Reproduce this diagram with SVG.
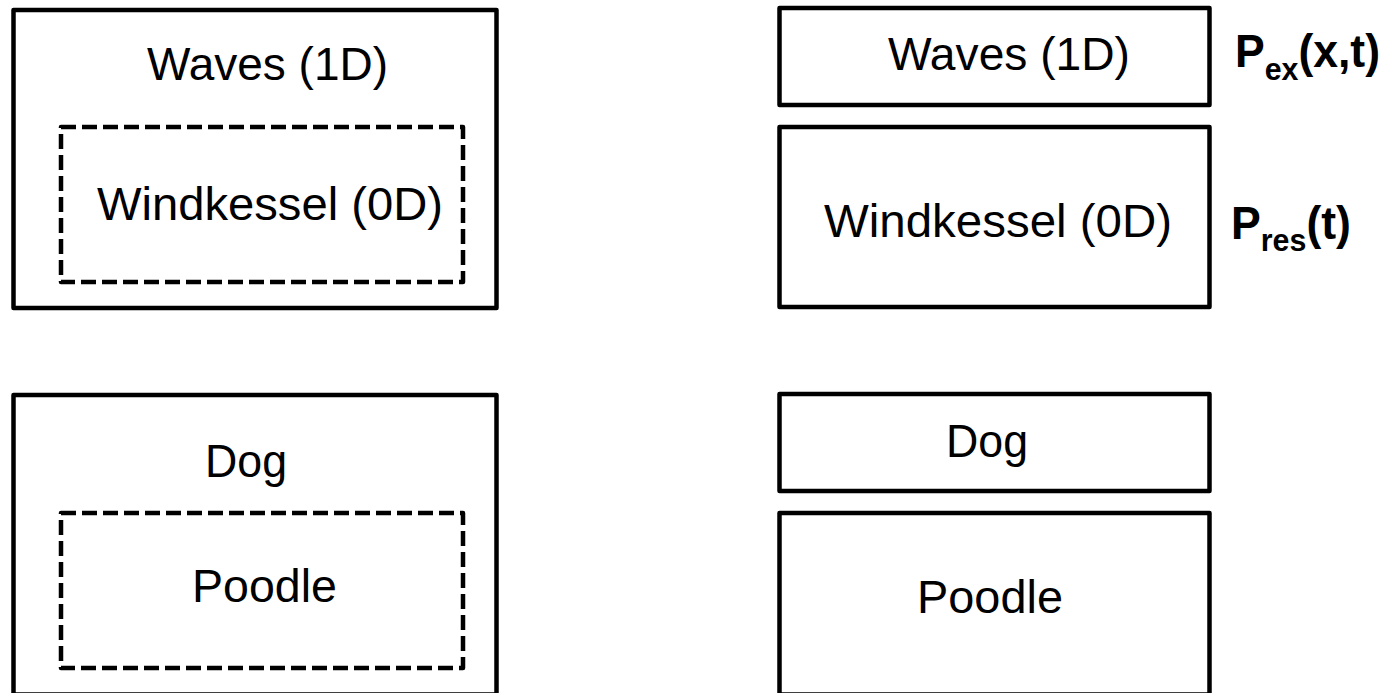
<svg xmlns="http://www.w3.org/2000/svg" width="1389" height="693" viewBox="0 0 1389 693">
<style>
.box{fill:none;stroke:#000;stroke-width:4.5;stroke-linejoin:round}
.dash{fill:none;stroke:#000;stroke-width:4.5;stroke-dasharray:15 6;stroke-linejoin:round}
.lbl{font-family:"Liberation Sans",Arial,sans-serif;font-size:47px;fill:#000;text-anchor:middle}
.eq{font-family:"Liberation Sans",Arial,sans-serif;font-weight:bold;font-size:47px;fill:#000}
.sub{font-size:32px}
</style>
<rect width="1389" height="693" fill="#fff"/>
<g id="waves-outer">
<rect class="box" x="13.5" y="10" width="483" height="298"/>
<text class="lbl" x="267.5" y="80" textLength="241" lengthAdjust="spacingAndGlyphs">Waves (1D)</text>
</g>
<g id="windkessel-inner">
<rect class="dash" x="61" y="127" width="402" height="155"/>
<text class="lbl" x="270" y="220" textLength="346" lengthAdjust="spacingAndGlyphs">Windkessel (0D)</text>
</g>
<g id="dog-outer">
<rect class="box" x="13.5" y="395" width="483" height="299.5"/>
<text class="lbl" x="246" y="477" textLength="82" lengthAdjust="spacingAndGlyphs">Dog</text>
</g>
<g id="poodle-inner">
<rect class="dash" x="61" y="513" width="402" height="155"/>
<text class="lbl" x="264.5" y="602" textLength="145" lengthAdjust="spacingAndGlyphs">Poodle</text>
</g>
<g id="waves-right">
<rect class="box" x="779.5" y="8" width="430" height="97"/>
<text class="lbl" x="1009" y="70" textLength="242" lengthAdjust="spacingAndGlyphs">Waves (1D)</text>
</g>
<g id="windkessel-right">
<rect class="box" x="779.5" y="127" width="430" height="180"/>
<text class="lbl" x="998" y="237" textLength="348" lengthAdjust="spacingAndGlyphs">Windkessel (0D)</text>
</g>
<g id="dog-right">
<rect class="box" x="779.5" y="394" width="430" height="97"/>
<text class="lbl" x="987" y="457" textLength="82" lengthAdjust="spacingAndGlyphs">Dog</text>
</g>
<g id="poodle-right">
<rect class="box" x="779.5" y="513" width="430" height="181.5"/>
<text class="lbl" x="990" y="613" textLength="146" lengthAdjust="spacingAndGlyphs">Poodle</text>
</g>
<g id="label-pex">
<text class="eq" x="1235" y="67" textLength="145" lengthAdjust="spacingAndGlyphs">P<tspan class="sub" dy="13">ex</tspan><tspan dy="-13">(x,t)</tspan></text>
</g>
<g id="label-pres">
<text class="eq" x="1231" y="239" textLength="120" lengthAdjust="spacingAndGlyphs">P<tspan class="sub" dy="12">res</tspan><tspan dy="-12">(t)</tspan></text>
</g>
<g id="connectors"></g>
</svg>
